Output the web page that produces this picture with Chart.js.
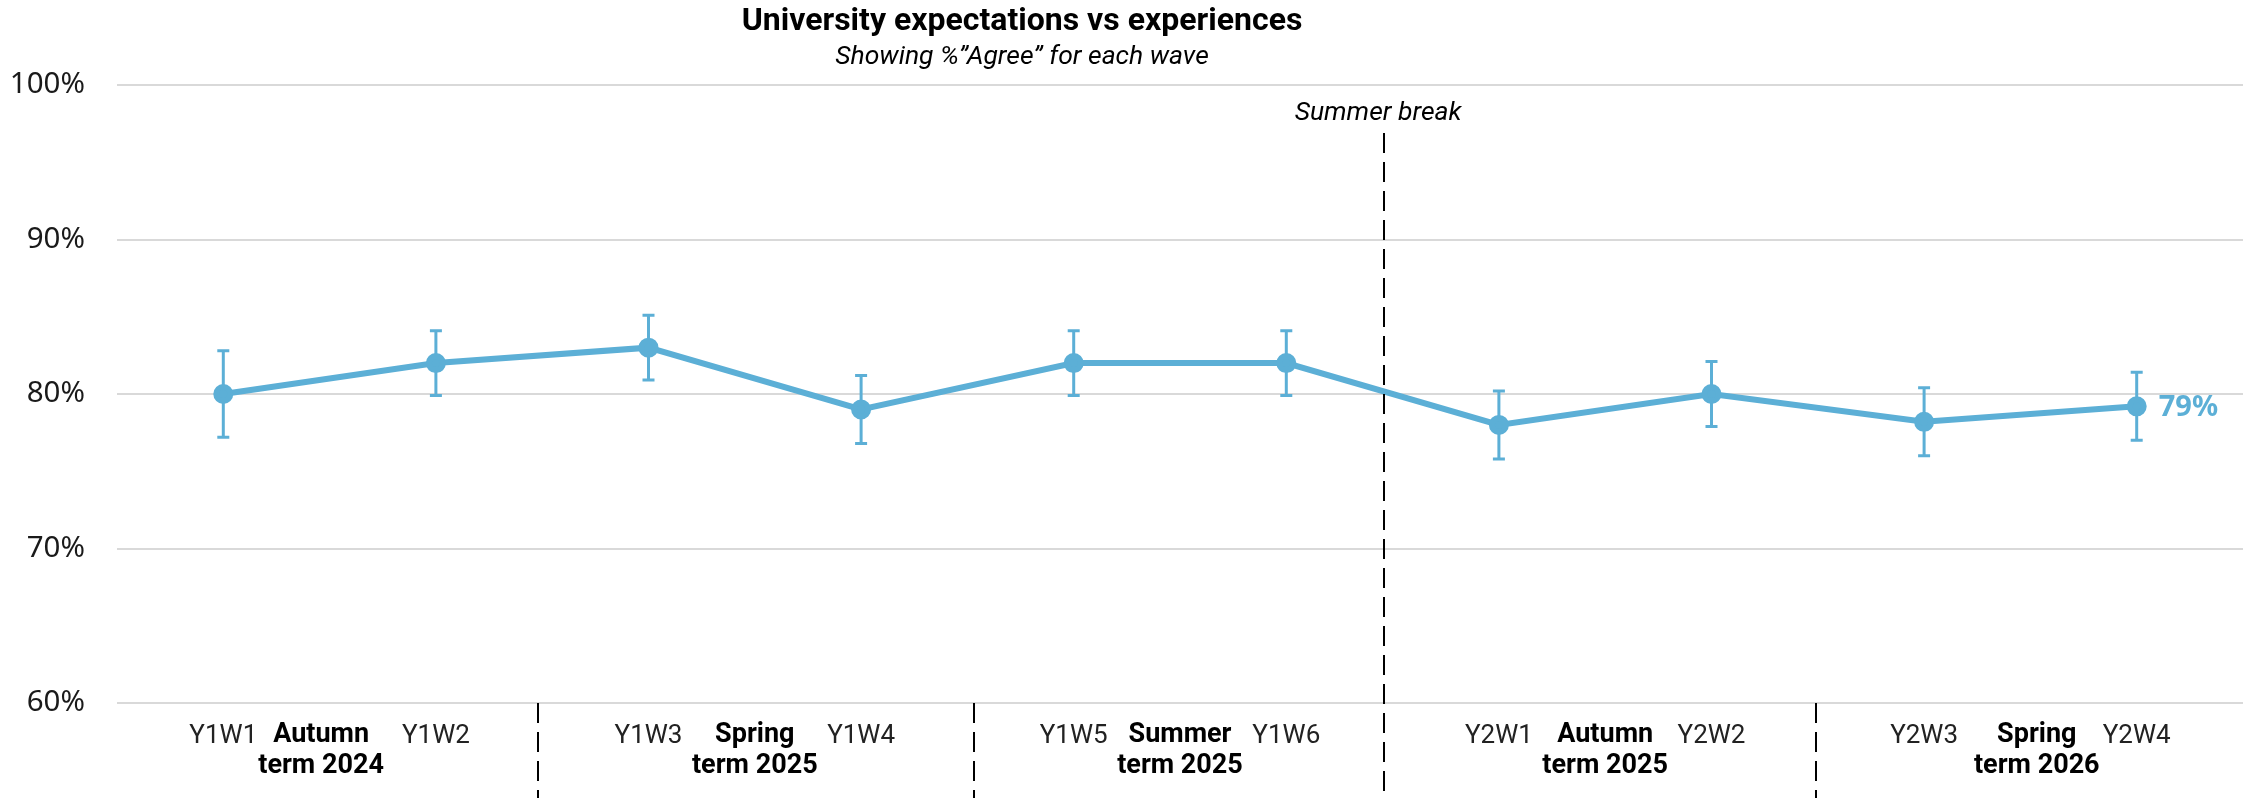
<!DOCTYPE html>
<html>
<head>
<meta charset="utf-8">
<script src="https://cdn.jsdelivr.net/npm/chart.js@4/dist/chart.umd.min.js"></script>
<style>
  body { margin: 0; background: #fff; }
  #wrap { width: 2258px; height: 798px; position: relative; }
</style>
</head>
<body>
<div id="wrap"><canvas id="chart"></canvas></div>
<script>
const waves = ['Y1W1', 'Y1W2', 'Y1W3', 'Y1W4', 'Y1W5', 'Y1W6', 'Y2W1', 'Y2W2', 'Y2W3', 'Y2W4']
const agree = [80, 82, 83, 79, 82, 82, 78, 80, 78.2, 79.2]
const errLow = [77.2, 79.9, 80.9, 76.8, 79.9, 79.9, 75.8, 77.9, 76.0, 77.0]
const errHigh = [82.8, 84.1, 85.1, 81.2, 84.1, 84.1, 80.2, 82.1, 80.4, 81.4]
const yTicks = [60, 70, 80, 90, 100]

const terms = [
  ['Autumn', 'term 2024'],
  ['Spring', 'term 2025'],
  ['Summer', 'term 2025'],
  ['Autumn', 'term 2025'],
  ['Spring', 'term 2026']
]
// where each term label sits, in wave index units
const termCentres = [0.46, 2.5, 4.5, 6.5, 8.53]
// dashed separators between waves; the summer one runs up the plot
const breaks = [1.48, 3.53, 5.46, 7.49]
const summerBreak = 5.46

const title = 'University expectations vs experiences'
const subtitle = 'Showing %\u201DAgree\u201D for each wave'

const blue = '#5cafd6'

const extras = {
  id: 'extras',
  beforeDatasetsDraw(chart) {
    const {ctx, scales: {x, y}} = chart
    ctx.save()
    ctx.strokeStyle = blue
    ctx.lineWidth = 3
    errLow.forEach((lo, i) => {
      const px = x.getPixelForValue(i)
      const top = y.getPixelForValue(errHigh[i])
      const bot = y.getPixelForValue(lo)
      ctx.beginPath()
      ctx.moveTo(px, top)
      ctx.lineTo(px, bot)
      ctx.moveTo(px - 6, top)
      ctx.lineTo(px + 6, top)
      ctx.moveTo(px - 6, bot)
      ctx.lineTo(px + 6, bot)
      ctx.stroke()
    })
    ctx.restore()
  },
  afterDraw(chart) {
    const {ctx, scales: {x, y}, chartArea} = chart
    ctx.save()

    // titles
    ctx.fillStyle = '#000'
    ctx.textAlign = 'center'
    ctx.textBaseline = 'middle'
    ctx.font = 'bold 32px Roboto'
    ctx.fillText(title, 1022, 22)
    ctx.font = 'italic 26.5px Roboto'
    ctx.fillText(subtitle, 1022, 57)

    // dashed separators
    ctx.strokeStyle = '#000'
    ctx.lineWidth = 2
    ctx.setLineDash([20, 9])
    breaks.forEach((b) => {
      const px = Math.round(x.getPixelForValue(b))
      const top = b === summerBreak ? 133 : chartArea.bottom
      ctx.beginPath()
      ctx.moveTo(px, top)
      ctx.lineTo(px, chart.height)
      ctx.stroke()
    })
    ctx.setLineDash([])

    ctx.font = 'italic 26.5px Roboto'
    ctx.fillText('Summer break', x.getPixelForValue(summerBreak) - 6, 113)

    // term labels
    ctx.font = 'bold 27px Roboto'
    terms.forEach((lines, i) => {
      const px = x.getPixelForValue(termCentres[i])
      ctx.fillText(lines[0], px, 735)
      ctx.fillText(lines[1], px, 766)
    })

    // end label
    const last = agree.length - 1
    ctx.fillStyle = blue
    ctx.textAlign = 'left'
    ctx.font = 'bold 29px "Noto Sans"'
    ctx.fillText(Math.round(agree[last]) + '%', x.getPixelForValue(last) + 22, y.getPixelForValue(agree[last]) + 1)

    ctx.restore()
  }
}

const config = {
  type: 'line',
  data: {
    labels: waves,
    datasets: [{
      label: 'Agree',
      data: agree,
      borderColor: blue,
      backgroundColor: blue,
      borderWidth: 6,
      pointRadius: 7,
      pointHoverRadius: 7,
      tension: 0
    }]
  },
  options: {
    responsive: true,
    maintainAspectRatio: false,
    animation: false,
    layout: { padding: { top: 85, right: 15, left: 0, bottom: 0 } },
    plugins: {
      legend: { display: false },
      tooltip: { enabled: false }
    },
    scales: {
      x: {
        offset: true,
        grid: { display: false, drawTicks: false },
        border: { display: false },
        ticks: {
          padding: 18,
          color: '#222',
          font: { family: 'Roboto', size: 26 },
          maxRotation: 0,
          autoSkip: false
        },
        afterFit(scale) { scale.height = 95 }
      },
      y: {
        min: yTicks[0],
        max: yTicks[yTicks.length - 1],
        afterBuildTicks(scale) { scale.ticks = yTicks.map((v) => ({value: v})) },
        grid: { color: '#d9d9d9', lineWidth: 2, drawTicks: false },
        border: { display: false },
        ticks: {
          padding: 32,
          color: '#1a1a1a',
          font: { family: 'Noto Sans', size: 29.5 },
          callback: (v) => v + '%'
        },
        afterFit(scale) { scale.width = 117 }
      }
    }
  },
  plugins: [extras]
}

new Chart(document.getElementById('chart'), config)
</script>
</body>
</html>
